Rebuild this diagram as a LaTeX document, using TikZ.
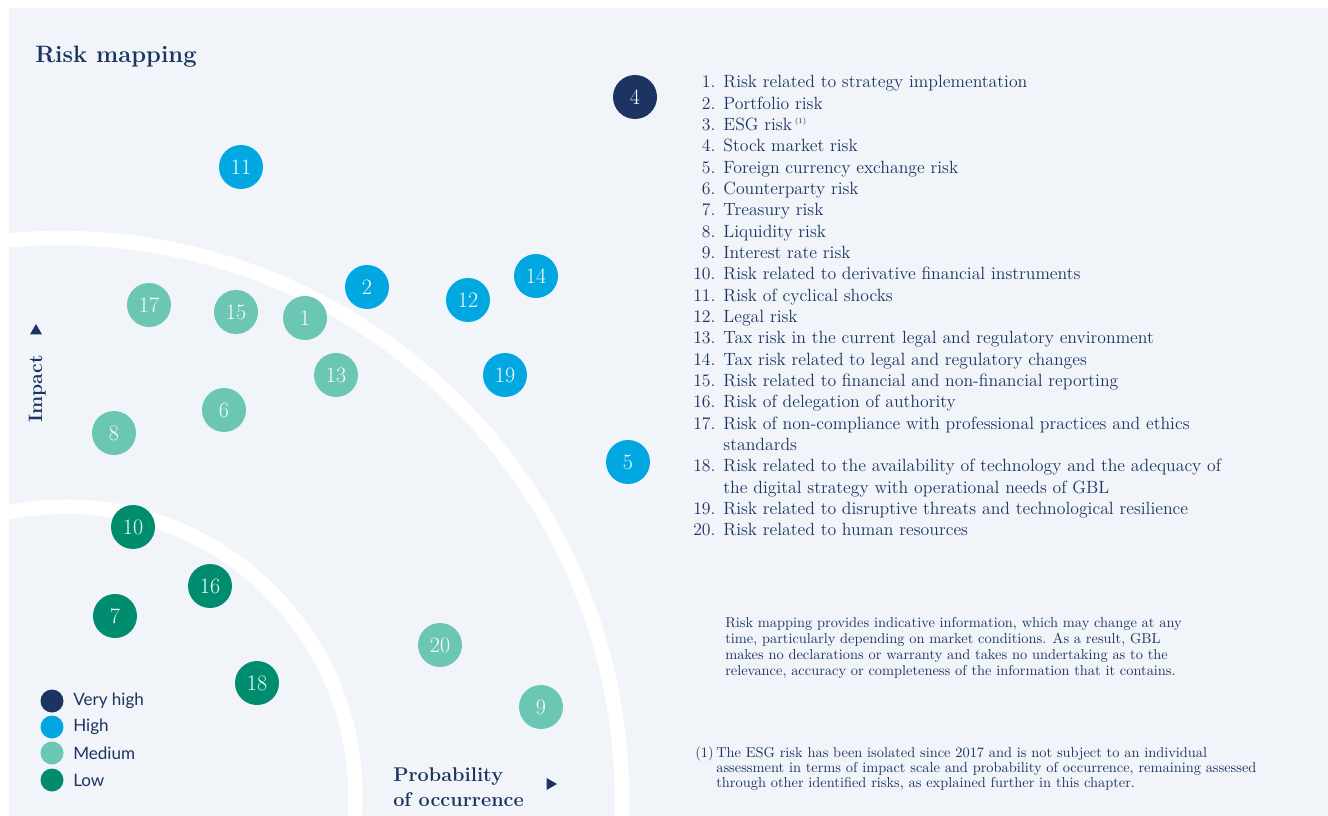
\documentclass[tikz,border=0pt]{standalone}
\usepackage{fontspec}
\newfontfamily\legendfont{Lato}
\usetikzlibrary{shapes.geometric}
\definecolor{navy}{HTML}{1B3461}
\definecolor{highblue}{HTML}{00A7E1}
\definecolor{mediumgreen}{HTML}{6BC6B3}
\definecolor{lowgreen}{HTML}{008C6E}
\definecolor{panel}{HTML}{F1F5F9}

\begin{document}
\begin{tikzpicture}[
        x=0.75pt, y=-0.75pt,
        bubble/.style={circle, minimum size=33pt, inner sep=0pt, text=white, font=\fontsize{16.5}{16}\selectfont},
        veryhigh/.style={bubble, fill=navy},
        high/.style={bubble, fill=highblue},
        medium/.style={bubble, fill=mediumgreen},
        low/.style={bubble, fill=lowgreen},
        key/.style={circle, minimum size=17.25pt, inner sep=0pt},
        key_label/.style={anchor=west, text=navy, inner sep=0pt, font=\legendfont\fontsize{12.8}{14}\selectfont},
        axis_label/.style={text=navy, inner sep=0pt},
        pointer/.style={regular polygon, regular polygon sides=3, fill=navy, inner sep=0pt, minimum size=10.5pt},
        band/.style={white, line width=10.9pt},
        notes/.style={anchor=base west, text=navy, inner sep=0pt}
    ]

        \useasboundingbox (0,0) rectangle (1328,816);
        \fill[white] (0,0) rectangle (1328,816);
        \fill[panel] (9,8) rectangle (1328,816);

        % White bands
        \begin{scope}
            \clip (9,8) rectangle (1328,816);
            \draw[band] (60,800) circle[radius=421.5pt];
            \draw[band] (66,796) circle[radius=217pt];
        \end{scope}

        \node[notes, font=\bfseries\fontsize{17.8}{20}\selectfont] (title) at (35,63) {Risk mapping};

        % Axes
        \node[axis_label, rotate=90, anchor=base, font=\bfseries\fontsize{14.5}{17}\selectfont] (impact) at (42,389) {Impact};
        \node[pointer] (impact_arrow) at (36,331) {};
        \node[axis_label, anchor=base west, font=\bfseries\fontsize{14.9}{18.75}\selectfont] (probability) at (393,781)
            {\begin{tabular}[t]{@{}l@{}}Probability\\of occurrence\end{tabular}};
        \node[pointer, shape border rotate=-90] (probability_arrow) at (550,784) {};

        % Very high
        \node[veryhigh] (risk4) at (635,97) {4};
        % High
        \node[high] (risk11) at (241,167) {11};
        \node[high] (risk2) at (367,287) {2};
        \node[high] (risk12) at (468,300) {12};
        \node[high] (risk14) at (536,276) {14};
        \node[high] (risk19) at (505,375) {19};
        \node[high] (risk5) at (628,462) {5};
        % Medium
        \node[medium] (risk17) at (149,305) {17};
        \node[medium] (risk15) at (236,312) {15};
        \node[medium] (risk1) at (305,318) {1};
        \node[medium] (risk13) at (336,375) {13};
        \node[medium] (risk6) at (224,410) {6};
        \node[medium] (risk8) at (114,433) {8};
        \node[medium] (risk20) at (440,645) {20};
        \node[medium] (risk9) at (541,707) {9};
        % Low
        \node[low] (risk10) at (133,527) {10};
        \node[low] (risk16) at (210,586) {16};
        \node[low] (risk7) at (115,616) {7};
        \node[low] (risk18) at (257,683) {18};

        % Legend
        \node[key, fill=navy] (key_veryhigh) at (52,701) {};
        \node[key, fill=highblue] (key_high) at (52,727) {};
        \node[key, fill=mediumgreen] (key_medium) at (52,753) {};
        \node[key, fill=lowgreen] (key_low) at (52,780) {};
        \node[key_label] at (73,701) {Very high};
        \node[key_label] at (73,727) {High};
        \node[key_label] at (73,753) {Medium};
        \node[key_label] at (73,780) {Low};

        % List of risks
        \node[notes, font=\fontsize{13.3}{16}\selectfont] (risklist) at (693,88) {\begin{tabular}[t]{@{}r@{\hspace{6pt}}l@{}}
            1. & Risk related to strategy implementation\\
            2. & Portfolio risk\\
            3. & ESG risk\,\textsuperscript{\fontsize{5.5}{6}\selectfont(1)}\\
            4. & Stock market risk\\
            5. & Foreign currency exchange risk\\
            6. & Counterparty risk\\
            7. & Treasury risk\\
            8. & Liquidity risk\\
            9. & Interest rate risk\\
            10. & Risk related to derivative financial instruments\\
            11. & Risk of cyclical shocks\\
            12. & Legal risk\\
            13. & Tax risk in the current legal and regulatory environment\\
            14. & Tax risk related to legal and regulatory changes\\
            15. & Risk related to financial and non-financial reporting\\
            16. & Risk of delegation of authority\\
            17. & Risk of non-compliance with professional practices and ethics\\
                & standards\\
            18. & Risk related to the availability of technology and the adequacy of\\
                & the digital strategy with operational needs of GBL\\
            19. & Risk related to disruptive threats and technological resilience\\
            20. & Risk related to human resources
        \end{tabular}};

        % Notes
        \node[notes, font=\fontsize{10.8}{12}\selectfont] (disclaimer) at (725,627) {\begin{tabular}[t]{@{}l@{}}
            Risk mapping provides indicative information, which may change at any\\
            time, particularly depending on market conditions. As a result, GBL\\
            makes no declarations or warranty and takes no undertaking as to the\\
            relevance, accuracy or completeness of the information that it contains.
        \end{tabular}};
        \node[notes, font=\fontsize{10.8}{11.6}\selectfont] (esg_note) at (695,757) {\begin{tabular}[t]{@{}l@{\hspace{2pt}}l@{}}
            (1) & The ESG risk has been isolated since 2017 and is not subject to an individual\\
                & assessment in terms of impact scale and probability of occurrence, remaining assessed\\
                & through other identified risks, as explained further in this chapter.
        \end{tabular}};

    \end{tikzpicture}
\end{document}
